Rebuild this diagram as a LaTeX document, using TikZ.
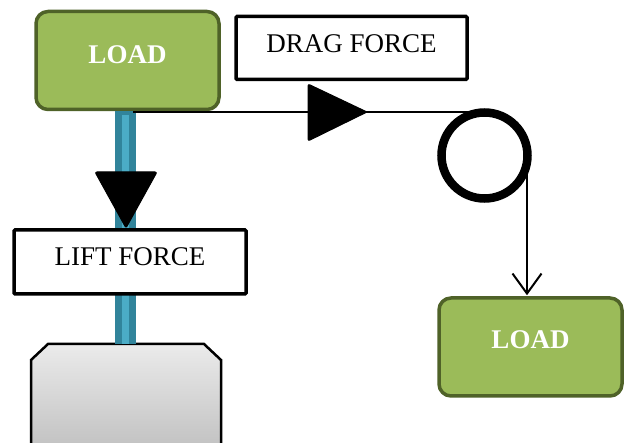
\documentclass[tikz,border=0pt]{standalone}
\usepackage{fontspec}
\setmainfont{Liberation Serif}
\usetikzlibrary{arrows.meta,calc}
\definecolor{loadfill}{HTML}{9BBB59}
\definecolor{loadedge}{HTML}{4F6228}
\definecolor{cableout}{HTML}{31849B}
\definecolor{cablein}{HTML}{4BACC6}
\definecolor{basetop}{HTML}{EBEBEB}
\definecolor{basebot}{HTML}{BDBDBD}
\tikzset{
  loadbox/.style={draw=loadedge, fill=loadfill, line width=3.5pt, rounded corners=12pt,
    minimum width=183pt, minimum height=98pt, inner sep=0pt},
  loadtext/.style={text=white, font=\fontsize{27}{30}\selectfont\bfseries, inner sep=0pt},
  forcebox/.style={draw=black, fill=white, line width=3.5pt, rounded corners=1pt,
    inner sep=0pt, font=\fontsize{27}{30}\selectfont},
  bigtip/.style={fill=black, draw=black, line width=1pt, rounded corners=2pt},
  rope/.style={draw=black, line width=2pt},
}
\begin{document}
\begin{tikzpicture}[x=1pt,y=-1pt]
  \useasboundingbox (0,0) rectangle (630,443);
  \clip (0,0) rectangle (630,443);
  \fill[white] (0,0) rectangle (630,443);

  % gripper base (grey block with chamfered top corners)
  \path[draw=black, line width=2.5pt, top color=basetop, bottom color=basebot, shading angle=0]
    (31,460) -- (31,360) -- (48,344) -- (204,344) -- (221,360) -- (221,460) -- cycle;

  % top load
  \node[loadbox] (load1) at (127.5,60.5) {};
  \node[loadtext] at ([yshift=6pt]load1.center) {LOAD};

  % lifting cable
  \coordinate (cabletop) at (125.5,111);
  \coordinate (cablebot) at (125.5,344);
  \fill[cableout] ($(cabletop)+(-10.5,0)$) rectangle ($(cablebot)+(10.5,0)$);
  \fill[cablein] ($(cabletop)+(-3.5,4)$) rectangle ($(cablebot)+(3.5,0)$);

  % lift force arrowhead and label
  \path[bigtip] (95,172) -- (157,172) -- (126,228) -- cycle;
  \node[forcebox, minimum width=232pt, minimum height=64pt] (lift) at (130,262) {};
  \node[inner sep=0pt, font=\fontsize{27}{30}\selectfont] at ([yshift=5pt]lift.center) {LIFT FORCE};

  % drag force label
  \node[forcebox, minimum width=231pt, minimum height=63pt] (drag) at (351.5,48) {};
  \node[inner sep=0pt, font=\fontsize{27}{30}\selectfont] at ([yshift=4pt]drag.center) {DRAG FORCE};

  % pulley
  \node[circle, draw=black, line width=8.5pt, minimum size=86pt, inner sep=0pt, outer sep=0pt]
    (pulley) at (484.5,155.5) {};

  % bottom right load
  \node[loadbox] (load2) at (530.5,347) {};
  \node[loadtext] at ([yshift=7pt]load2.center) {LOAD};

  % drag rope over the pulley
  \coordinate (ropestart) at (133,112);
  \coordinate (ropetop) at (472,112);
  \draw[rope] (ropestart) -- (ropetop);
  \path[bigtip] (308,84) -- (308,141) -- (367,112) -- cycle;
  \coordinate (ropedown) at ($(pulley.center)+(42.5,10)$);
  \draw[rope, -{Straight Barb[length=20pt,width=29pt,line width=2pt]}]
    (ropedown) -- ([yshift=1pt]ropedown |- load2.north);
\end{tikzpicture}
\end{document}
